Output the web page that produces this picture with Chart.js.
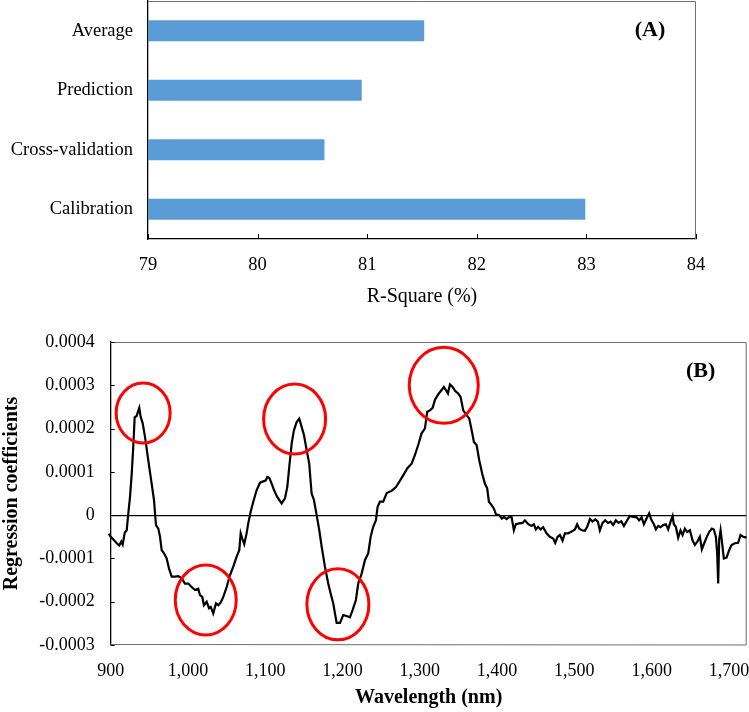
<!DOCTYPE html>
<html lang="en">
<head>
    <meta charset="UTF-8">
    <title>R-Square and regression coefficients</title>
    <script src="https://cdn.jsdelivr.net/npm/chart.js"></script>
    <style>
        body {
            margin: 0;
            background: #fff;
            width: 749px;
            height: 712px;
            position: relative;
            overflow: hidden;
        }

        canvas {
            position: absolute;
            left: 0;
        }

        #chartA { top: 0; }
        #chartB { top: 310px; }
    </style>
</head>
<body>
    <canvas id="chartA" width="749" height="310"></canvas>
    <canvas id="chartB" width="749" height="402"></canvas>

    <script>
        // (A) R-square per stage
        const stages = ['Average', 'Prediction', 'Cross-validation', 'Calibration'];
        const rSquare = [81.52, 80.95, 80.61, 82.99];

        // (B) regression coefficients along the spectrum
        const wavelength = [
            887.1, 888.7, 891.3, 893.0, 895.6, 897.4, 900.0, 903.4, 907.8, 911.1, 913.7, 915.5, 918.1, 920.7,
            922.8, 925.0, 927.2, 929.2, 931.0, 933.6, 935.3, 937.0, 938.8, 941.4, 944.4, 948.6, 953.0, 956.0, 958.6, 961.6, 963.8,
            966.0, 969.0, 972.4, 975.4, 978.9, 983.2, 987.5, 991.9, 996.1, 1000.4,
            1004.8, 1009.1, 1013.3, 1015.5, 1018.5, 1020.7, 1024.2, 1027.2, 1029.4, 1032.7,
            1036.2, 1039.2, 1042.3, 1045.7, 1050.1, 1054.3, 1058.6, 1063.0, 1066.4, 1068.2,
            1070.3, 1072.8, 1075.9, 1078.0, 1081.1, 1084.5, 1088.9, 1093.2, 1097.4, 1100.5,
            1102.6, 1105.2, 1108.3, 1111.3, 1115.5, 1121.2, 1125.5, 1128.5, 1131.1, 1134.2,
            1137.1, 1140.6, 1144.0, 1147.1, 1150.1, 1153.6, 1156.9, 1160.0, 1163.0, 1166.5,
            1169.9, 1173.0, 1177.2, 1181.5, 1184.6, 1188.0, 1190.2, 1192.4, 1196.7, 1200.9,
            1205.3, 1209.6, 1213.1, 1217.3, 1220.3, 1224.7, 1229.0, 1233.3, 1236.4, 1239.7,
            1243.2, 1245.4, 1248.4,
            1252.7, 1257.1, 1263.5, 1269.1, 1273.4, 1278.5, 1283.7, 1289.4, 1293.7, 1297.9,
            1302.3, 1306.6, 1309.6, 1313.1, 1316.6, 1319.5, 1323.8, 1328.2, 1331.2, 1333.8,
            1336.4, 1339.0, 1342.4, 1345.8, 1349.7, 1352.8, 1356.2, 1360.6, 1364.0, 1367.1,
            1370.0, 1373.5, 1376.9, 1380.7, 1384.2, 1387.2, 1389.4, 1392.9, 1395.9, 1398.5,
            1402.7, 1406.2, 1408.8, 1412.3, 1415.7, 1418.8, 1421.7, 1424.3, 1428.6, 1433.0,
            1436.0, 1440.3, 1444.6, 1447.6, 1450.2, 1453.2, 1456.3, 1459.6, 1464.0, 1468.3,
            1472.6, 1475.2, 1478.3, 1481.3, 1484.7, 1487.7, 1492.0, 1496.4, 1500.7, 1503.6,
            1506.2, 1509.7, 1513.6, 1516.6, 1520.1, 1523.6, 1526.9, 1530.4, 1533.0, 1536.5,
            1539.9, 1543.4, 1546.9, 1550.2, 1553.7, 1557.2, 1560.6, 1564.1, 1568.3, 1571.8,
            1576.1, 1580.5, 1583.9, 1587.0, 1590.0, 1593.4, 1596.8, 1599.9, 1602.9, 1605.5,
            1608.4, 1611.5, 1614.9, 1618.4, 1621.4, 1624.5, 1627.1, 1628.7, 1631.3, 1634.3,
            1637.4, 1640.0, 1643.0, 1646.0, 1649.5, 1652.9, 1655.9, 1658.9, 1662.4, 1665.0,
            1668.0, 1671.0, 1674.4, 1677.9, 1680.5, 1683.1, 1684.8, 1686.1, 1687.4, 1689.2,
            1691.7, 1693.4, 1696.9, 1700.3, 1703.4, 1707.7, 1711.9, 1715.0, 1718.4, 1722.8
        ];
        const coefficient = [
            5.1e-5, -4.4e-5, -3.3e-5, -4.1e-5, -3.1e-5, -4.3e-5, -5.0e-5, -5.6e-5, -6.5e-5, -7.0e-5, -6.1e-5, -6.8e-5, -4.1e-5, -3.5e-5,
            0.4e-5, 4.2e-5, 9.6e-5, 15.8e-5, 22.6e-5, 22.9e-5, 23.9e-5, 24.8e-5, 22.7e-5, 21.2e-5, 18.1e-5, 12.7e-5, 7.3e-5, 3.5e-5, -2.3e-5, -3.1e-5, -5.0e-5,
            -8.1e-5, -8.8e-5, -10.0e-5, -12.3e-5, -14.2e-5, -14.2e-5, -14.1e-5, -14.6e-5, -15.8e-5, -15.8e-5,
            -16.6e-5, -17.3e-5, -17.0e-5, -18.5e-5, -18.9e-5, -20.8e-5, -20.0e-5, -21.5e-5, -21.2e-5, -22.7e-5,
            -20.4e-5, -20.8e-5, -20.2e-5, -18.9e-5, -16.6e-5, -13.9e-5, -11.9e-5, -9.6e-5, -8.1e-5, -4.2e-5,
            -5.4e-5, -6.7e-5, -4.2e-5, -1.9e-5, 0.8e-5, 3.1e-5, 5.8e-5, 7.5e-5, 7.8e-5, 8.0e-5,
            8.8e-5, 8.6e-5, 7.3e-5, 5.8e-5, 4.2e-5, 2.7e-5, 3.9e-5, 6.5e-5, 11.2e-5, 16.6e-5,
            19.6e-5, 21.5e-5, 22.3e-5, 20.4e-5, 18.5e-5, 15.0e-5, 11.9e-5, 5.0e-5, 3.5e-5, 0,
            -3.5e-5, -7.3e-5, -11.9e-5, -15.8e-5, -18.1e-5, -20.4e-5, -22.7e-5, -24.9e-5, -24.9e-5, -23.1e-5,
            -23.3e-5, -23.6e-5, -21.9e-5, -19.6e-5, -15.8e-5, -13.5e-5, -10.4e-5, -8.8e-5, -5.0e-5, -2.7e-5,
            -1.2e-5, 1.9e-5, 3.1e-5,
            3.1e-5, 5.1e-5, 5.6e-5, 6.5e-5, 7.7e-5, 9.2e-5, 10.8e-5, 11.9e-5, 13.9e-5, 16.2e-5,
            18.9e-5, 20.0e-5, 23.9e-5, 24.2e-5, 24.8e-5, 26.6e-5, 27.9e-5, 28.9e-5, 29.6e-5, 28.9e-5,
            28.1e-5, 30.2e-5, 29.6e-5, 28.7e-5, 28.1e-5, 27.3e-5, 24.2e-5, 23.1e-5, 22.3e-5, 19.6e-5,
            16.9e-5, 16.2e-5, 12.7e-5, 9.6e-5, 7.3e-5, 6.2e-5, 3.1e-5, 2.3e-5, 1.5e-5, 0.2e-5,
            0, -0.8e-5, -0.4e-5, -0.9e-5, -0.4e-5, -0.5e-5, -3.5e-5, -2.1e-5, -1.9e-5, -1.8e-5,
            -1.2e-5, -2.1e-5, -2.5e-5, -2.1e-5, -3.3e-5, -2.7e-5, -3.3e-5, -2.8e-5, -4.2e-5, -5.0e-5,
            -5.4e-5, -6.4e-5, -5.0e-5, -4.6e-5, -5.9e-5, -4.2e-5, -4.2e-5, -3.8e-5, -3.3e-5, -2.1e-5,
            -3.1e-5, -3.5e-5, -3.6e-5, -2.7e-5, -0.9e-5, -1.5e-5, -1.0e-5, -1.5e-5, -3.5e-5, -1.8e-5,
            -1.2e-5, -1.8e-5, -1.5e-5, -2.3e-5, -1.2e-5, -1.8e-5, -1.4e-5, -2.5e-5, -1.2e-5, -0.2e-5,
            -0.4e-5, -0.5e-5, -1.2e-5, -0.5e-5, -2.1e-5, -0.8e-5, 0.4e-5, -1.2e-5, -2.1e-5, -3.3e-5,
            -2.5e-5, -2.8e-5, -2.3e-5, -2.1e-5, -3.3e-5, -1.5e-5, -0.2e-5, -2.1e-5, -2.7e-5, -5.2e-5,
            -3.5e-5, -4.6e-5, -3.1e-5, -3.9e-5, -3.5e-5, -5.8e-5, -6.9e-5, -6.2e-5, -5.0e-5, -7.9e-5,
            -6.5e-5, -5.2e-5, -3.9e-5, -3.1e-5, -3.3e-5, -5.0e-5, -8.8e-5, -15.8e-5, -5.6e-5, -3.5e-5,
            -7.3e-5, -10.0e-5, -9.8e-5, -8.1e-5, -6.9e-5, -6.5e-5, -6.4e-5, -4.6e-5, -5.0e-5, -5.2e-5
        ];

        // highlighted regions (centre wavelength / coefficient)
        const markWavelength = [942, 1023, 1138, 1194, 1331];
        const markCoefficient = [0.000236, -0.000196, 0.000222, -0.000206, 0.000300];

        const serif = "'Liberation Serif', 'Times New Roman', serif";
        Chart.defaults.font.family = serif;
        Chart.defaults.color = '#000';
        Chart.defaults.animation = false;

        // gray box around the plot area (sides not covered by black axes)
        const plotFrame = {
            id: 'plotFrame',
            beforeDatasetsDraw(chart, args, opts) {
                const { ctx, chartArea: a } = chart;
                ctx.save();
                ctx.strokeStyle = '#6e6e6e';
                ctx.lineWidth = 1;
                ctx.beginPath();
                ctx.moveTo(a.left, a.top + 0.5);
                ctx.lineTo(a.right - 0.5, a.top + 0.5);
                ctx.lineTo(a.right - 0.5, a.bottom);
                if (opts.bottom) ctx.lineTo(a.left, a.bottom - 0.5);
                ctx.stroke();
                ctx.restore();
            }
        };

        // short tick marks pointing into the plot
        const innerTicks = {
            id: 'innerTicks',
            beforeDatasetsDraw(chart, args, opts) {
                const { ctx, chartArea: a } = chart;
                const scale = chart.scales[opts.axis];
                ctx.save();
                ctx.strokeStyle = '#000';
                ctx.lineWidth = 1;
                ctx.beginPath();
                scale.ticks.forEach((t, i) => {
                    const p = Math.round(scale.getPixelForTick(i)) + 0.5;
                    if (scale.isHorizontal()) {
                        ctx.moveTo(p, a.bottom);
                        ctx.lineTo(p, a.bottom - opts.length);
                    } else {
                        ctx.moveTo(a.left, p);
                        ctx.lineTo(a.left + opts.length, p);
                    }
                });
                ctx.stroke();
                ctx.restore();
            }
        };

        // "(A)" / "(B)" tag in the top right corner
        const panelTag = {
            id: 'panelTag',
            afterDraw(chart, args, opts) {
                const { ctx, chartArea: a } = chart;
                ctx.save();
                ctx.font = 'bold 22px ' + serif;
                ctx.fillStyle = '#000';
                ctx.textAlign = 'center';
                ctx.textBaseline = 'middle';
                ctx.fillText(opts.text, a.right - 46, a.top + 29);
                ctx.restore();
            }
        };

        // red ellipses around the important bands
        const bandRings = {
            id: 'bandRings',
            afterDatasetsDraw(chart) {
                const { ctx } = chart;
                const x = chart.scales.x, y = chart.scales.y;
                const radii = [[27, 30], [30.5, 35], [31, 35], [31, 35.5], [34.5, 38]];
                ctx.save();
                ctx.strokeStyle = '#ff0000';
                ctx.lineWidth = 3;
                markWavelength.forEach((w, i) => {
                    ctx.beginPath();
                    ctx.ellipse(x.getPixelForValue(w), y.getPixelForValue(markCoefficient[i]),
                        radii[i][0], radii[i][1], 0, 0, Math.PI * 2);
                    ctx.stroke();
                });
                ctx.restore();
            }
        };

        new Chart(document.getElementById('chartA'), {
            type: 'bar',
            data: {
                labels: stages,
                datasets: [{
                    data: rSquare,
                    backgroundColor: '#5b9bd5',
                    borderWidth: 0,
                    barPercentage: 0.35,
                    categoryPercentage: 1
                }]
            },
            options: {
                indexAxis: 'y',
                responsive: false,
                layout: { padding: { left: 0, right: 53, top: 1, bottom: 0 } },
                plugins: {
                    legend: { display: false },
                    tooltip: { enabled: false },
                    panelTag: { text: '(A)' },
                    innerTicks: { axis: 'x', length: 5 },
                    plotFrame: { bottom: false }
                },
                scales: {
                    x: {
                        type: 'linear',
                        min: 79,
                        max: 84,
                        ticks: { stepSize: 1, padding: 15, font: { size: 18.5 } },
                        grid: { display: false, drawTicks: false },
                        border: { color: '#000', width: 1.3 },
                        title: {
                            display: true,
                            text: 'R-Square (%)',
                            font: { size: 20 },
                            padding: { top: 0, bottom: 1 }
                        },
                        afterFit: s => {
                            s.height = 71;
                            s.paddingLeft = 0;
                            s.paddingRight = 0;
                        }
                    },
                    y: {
                        ticks: { padding: 15, font: { size: 18.5 } },
                        grid: { display: false, drawTicks: false },
                        border: { color: '#000', width: 1.3 },
                        afterFit: s => {
                            s.width = 148;
                            s.paddingTop = 0;
                            s.paddingBottom = 0;
                        }
                    }
                }
            },
            plugins: [plotFrame, innerTicks, panelTag]
        });

        new Chart(document.getElementById('chartB'), {
            type: 'line',
            data: {
                datasets: [{
                    data: wavelength.map((w, i) => ({ x: w, y: coefficient[i] })),
                    borderColor: '#000',
                    borderWidth: 2.2,
                    pointRadius: 0,
                    tension: 0,
                    clip: false
                }]
            },
            options: {
                responsive: false,
                layout: { padding: { left: 0, right: 2.3, top: 32, bottom: 0 } },
                plugins: {
                    legend: { display: false },
                    tooltip: { enabled: false },
                    panelTag: { text: '(B)' },
                    innerTicks: { axis: 'y', length: 4 },
                    plotFrame: { bottom: true }
                },
                scales: {
                    x: {
                        type: 'linear',
                        bounds: 'data',
                        min: 900,
                        max: 1723,
                        ticks: {
                            stepSize: 100,
                            maxRotation: 0,
                            autoSkip: false,
                            padding: 15,
                            font: { size: 18 },
                            callback: v => v.toLocaleString('en-US')
                        },
                        afterBuildTicks: s => {
                            s.ticks = s.ticks.filter(t => t.value % 100 === 0);
                        },
                        grid: { display: false, drawTicks: false },
                        border: { display: false },
                        title: {
                            display: true,
                            text: 'Wavelength (nm)',
                            font: { size: 20, weight: 'bold' },
                            padding: { top: 0, bottom: 2 }
                        },
                        afterFit: s => {
                            s.height = 67;
                            s.paddingLeft = 0;
                            s.paddingRight = 0;
                        }
                    },
                    y: {
                        type: 'linear',
                        min: -0.0003,
                        max: 0.0004,
                        ticks: {
                            stepSize: 0.0001,
                            padding: 16,
                            font: { size: 18 },
                            callback: v => Math.abs(v) < 1e-12 ? '0' : v.toFixed(4)
                        },
                        grid: {
                            drawTicks: false,
                            lineWidth: 1.2,
                            color: c => (c.tick && Math.abs(c.tick.value) < 1e-12) ? '#000' : 'rgba(0,0,0,0)'
                        },
                        border: { color: '#000', width: 1.3 },
                        title: {
                            display: true,
                            text: 'Regression coefficients',
                            font: { size: 20, weight: 'bold' },
                            padding: { top: 0, bottom: 0 }
                        },
                        afterFit: s => {
                            s.width = 110.7;
                            s.paddingTop = 0;
                            s.paddingBottom = 0;
                        }
                    }
                }
            },
            plugins: [plotFrame, innerTicks, bandRings, panelTag]
        });
    </script>
</body>
</html>
